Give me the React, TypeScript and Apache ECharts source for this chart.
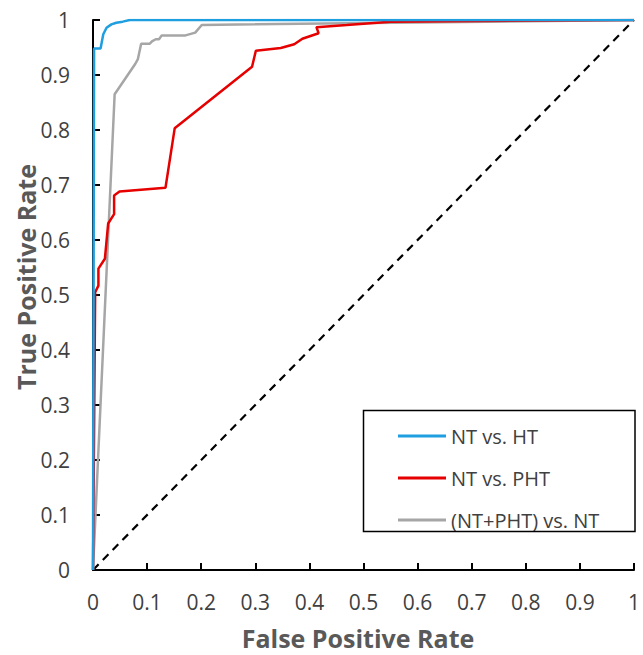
import React, { useEffect, useRef } from "react";
import * as echarts from "echarts";

const xTicks = [0, 0.1, 0.2, 0.3, 0.4, 0.5, 0.6, 0.7, 0.8, 0.9, 1];
const seriesNames = ["NT vs. HT", "NT vs. PHT", "(NT+PHT) vs. NT"];

const ntVsHt: [number, number][] = [
  [0, 0], [0.002, 0.948], [0.014, 0.948], [0.019, 0.974], [0.025, 0.986],
  [0.034, 0.992], [0.043, 0.995], [0.055, 0.997], [0.068, 1], [1, 1],
];

const ntVsPht: [number, number][] = [
  [0, 0], [0.004, 0.505], [0.01, 0.517], [0.01, 0.548], [0.022, 0.566],
  [0.028, 0.63], [0.039, 0.647], [0.039, 0.681], [0.049, 0.688], [0.134, 0.695],
  [0.151, 0.803], [0.294, 0.915], [0.301, 0.944], [0.347, 0.949], [0.372, 0.956],
  [0.387, 0.966], [0.417, 0.976], [0.413, 0.987], [0.469, 0.991], [0.55, 0.997], [1, 1],
];

const combinedVsNt: [number, number][] = [
  [0, 0], [0.04, 0.865], [0.078, 0.92], [0.083, 0.929], [0.089, 0.957],
  [0.105, 0.957], [0.109, 0.961], [0.116, 0.965], [0.122, 0.965], [0.127, 0.972],
  [0.171, 0.972], [0.189, 0.977], [0.201, 0.991], [1, 1],
];

const diagonal: [number, number][] = [[0, 0], [1, 1]];

const colors = ["#1F9FDF", "#E60000", "#A6A6A6"];

export default function App() {
  const ref = useRef<HTMLDivElement>(null);
  useEffect(() => {
    if (!ref.current) return;
    const chart = echarts.init(ref.current, null, { renderer: "svg" });
    const font = "'Open Sans', 'Noto Sans', sans-serif";
    const axisCommon = {
      type: "value" as const,
      min: 0,
      max: 1,
      interval: 0.1,
      splitLine: { show: false },
      axisLine: { show: true, lineStyle: { color: "#000", width: 2 } },
      axisTick: { show: true, inside: true, length: 7, lineStyle: { color: "#000", width: 2 } },
    };
    chart.setOption({
      animation: false,
      backgroundColor: "#fff",
      grid: { left: 93, right: 3, top: 20, bottom: 85 },
      xAxis: {
        ...axisCommon,
        axisLabel: {
          margin: 21,
          fontSize: 21,
          color: "#404040",
          fontFamily: font,
          formatter: (v: number) => (xTicks.includes(Math.round(v * 10) / 10) ? String(Math.round(v * 10) / 10) : ""),
        },
      },
      yAxis: {
        ...axisCommon,
        axisLabel: {
          margin: 23,
          fontSize: 21,
          color: "#404040",
          fontFamily: font,
          formatter: (v: number) => String(Math.round(v * 10) / 10),
        },
      },
      legend: {
        data: seriesNames,
        orient: "vertical",
        left: 393,
        top: 420,
        icon: "rect",
        itemWidth: 48,
        itemHeight: 3,
        itemGap: 20,
        textStyle: { fontSize: 20, lineHeight: 22, color: "#404040", fontFamily: font },
      },
      graphic: [
        {
          type: "rect",
          shape: { x: 363.5, y: 410.5, width: 271.5, height: 121 },
          style: { fill: "none", stroke: "#000", lineWidth: 1.5 },
          z: 10,
        },
        {
          type: "text",
          x: 358,
          y: 638,
          style: {
            text: "False Positive Rate",
            fontSize: 25,
            fontWeight: "bold",
            fill: "#595959",
            fontFamily: font,
            align: "center",
            verticalAlign: "middle",
          },
        },
        {
          type: "text",
          x: 26,
          y: 277,
          rotation: Math.PI / 2,
          style: {
            text: "True Positive Rate",
            fontSize: 25,
            fontWeight: "bold",
            fill: "#595959",
            fontFamily: font,
            align: "center",
            verticalAlign: "middle",
          },
        },
      ],
      series: [
        {
          name: "diagonal",
          type: "line",
          data: diagonal,
          symbol: "none",
          lineStyle: { color: "#000", width: 2.2, type: [8, 6] },
          silent: true,
        },
        {
          name: seriesNames[2],
          type: "line",
          data: combinedVsNt,
          symbol: "none",
          color: colors[2],
          lineStyle: { color: colors[2], width: 2.5 },
        },
        {
          name: seriesNames[1],
          type: "line",
          data: ntVsPht,
          symbol: "none",
          color: colors[1],
          lineStyle: { color: colors[1], width: 2.5 },
        },
        {
          name: seriesNames[0],
          type: "line",
          data: ntVsHt,
          symbol: "none",
          color: colors[0],
          lineStyle: { color: colors[0], width: 2.5 },
        },
      ],
    });
    return () => chart.dispose();
  }, []);
  return (
    <div
      ref={ref}
      style={{ position: "absolute", left: 0, top: 0, width: 643, height: 655 }}
    />
  );
}
